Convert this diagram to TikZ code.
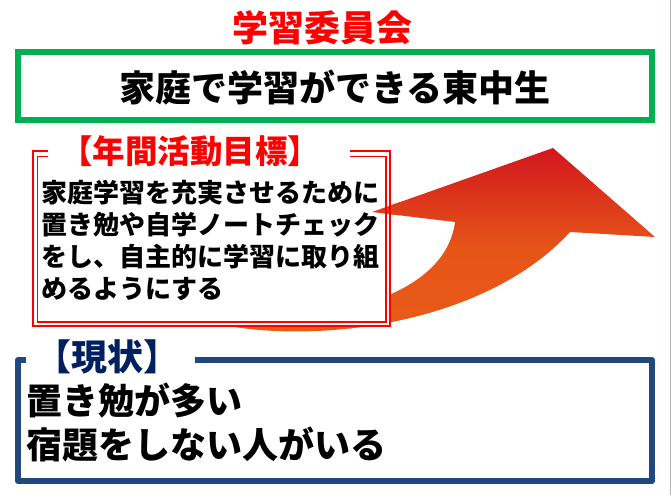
\documentclass[tikz,border=0pt]{standalone}
\usepackage{fontspec}
\setmainfont{Noto Sans CJK JP}[BoldFont={Noto Sans CJK JP Black}]
\usetikzlibrary{positioning}
\definecolor{goalgreen}{RGB}{0,176,80}
\definecolor{nowblue}{RGB}{31,73,125}
\definecolor{nownavy}{RGB}{0,32,96}
\definecolor{arrowtop}{RGB}{210,22,30}
\definecolor{arrowmid}{RGB}{230,84,24}
\definecolor{arrowbot}{RGB}{234,92,24}
\definecolor{edgegray}{RGB}{175,180,190}
\newcommand\arrowpath{(210,322) .. controls (300,345) and (480,330) .. (570,232) -- (655,237) -- (553,148) -- (372,212) -- (455,222) .. controls (445,300) and (320,325) .. cycle}

\begin{document}
\begin{tikzpicture}[x=1pt,y=-1pt,
    big/.style={font=\fontsize{36}{44}\selectfont\bfseries, inner sep=0pt},
    small/.style={font=\fontsize{26}{32}\selectfont\bfseries, inner sep=0pt, align=left},
    arrowshade/.style={top color=arrowtop, bottom color=arrowbot, middle color=arrowmid}]
      \useasboundingbox (0,0) rectangle (671,499);
      \draw[edgegray, line width=1pt] (670.5,0) -- (670.5,495);
      % title and goal
      \node[big, red] (title) at (322,28) {学習委員会};
      \draw[goalgreen, line width=6pt] (18,52) rectangle (652,119.5);
      \node[big] (goal) at (335,88) {家庭で学習ができる東中生};
      % arrow, then the red box over its tail
      \shade[arrowshade] \arrowpath;
      \fill[white] (33,151) rectangle (390,326);
      \begin{scope}
        \clip (340,190) rectangle (400,230);
        \shade[arrowshade] \arrowpath;
      \end{scope}
      \draw[red, line width=2.5pt] (48,151) -| (33,326) -| (390,151) -- (350,151);
      \draw[red, line width=1.8pt] (48,156.5) -| (37.5,322) -| (386,156.5) -- (350,156.5);
      \node[red, font=\fontsize{32.5}{36}\selectfont\bfseries, inner sep=0pt] (aimtitle) at (190,151) {【年間活動目標】};
      \node[small, anchor=north west] (aimtext) at (41,180) {家庭学習を充実させるために\\置き勉や自学ノートチェック\\をし、自主的に学習に取り組\\めるようにする};
      % now
      \draw[nowblue, line width=6pt, line join=round] (26,360) -| (18,481) -| (652,360) -- (195,360);
      \node[big, nownavy] (nowtitle) at (107,357) {【現状】};
      \node[big, anchor=north west, align=left] (nowtext) at (26,383) {置き勉が多い\\宿題をしない人がいる};
\end{tikzpicture}
\end{document}
